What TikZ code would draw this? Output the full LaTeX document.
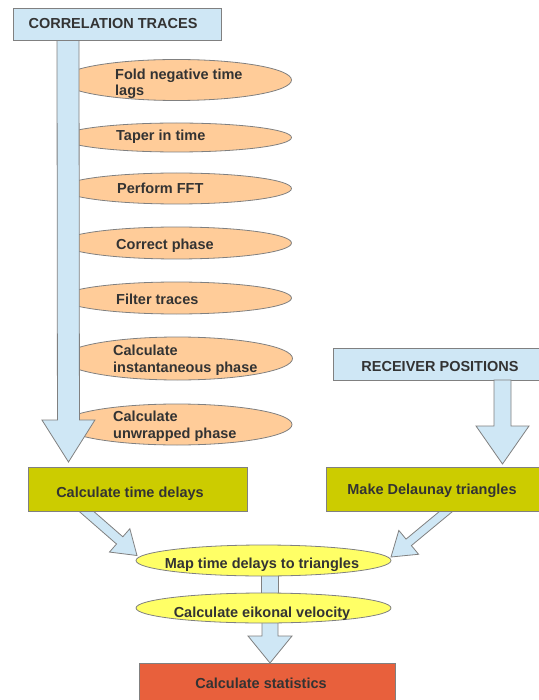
\documentclass[tikz,border=0pt]{standalone}
\usepackage{fontspec}
\setmainfont{Liberation Sans}
\usetikzlibrary{calc,shapes.geometric}
\definecolor{lblue}{RGB}{207,231,245}
\definecolor{peach}{RGB}{255,204,153}
\definecolor{boxolive}{RGB}{204,204,0}
\definecolor{lyellow}{RGB}{255,255,102}
\definecolor{statred}{RGB}{232,96,60}
\definecolor{edgegray}{RGB}{128,128,128}
\definecolor{txtgray}{RGB}{51,51,51}
\newcommand\blockarrow[5]{%
  \coordinate (bah) at ($(#2)!#5!(#1)$);
  \filldraw[arrowshape] ($(#1)!#3!90:(#2)$) -- ($(bah)!#3!90:(#2)$) -- ($(bah)!#4!90:(#2)$) -- (#2)
    -- ($(bah)!#4!-90:(#2)$) -- ($(bah)!#3!-90:(#2)$) -- ($(#1)!#3!-90:(#2)$) -- cycle;
}
\begin{document}
\begin{tikzpicture}[x=1pt,y=-1pt,
  font=\fontsize{14.5}{16.5}\selectfont\bfseries,
  arrowshape/.style={fill=lblue, draw=edgegray, line width=0.8pt, line join=miter},
  boxshape/.style={draw=edgegray, line width=0.8pt, rectangle, inner sep=0},
  peachell/.style={ellipse, draw=edgegray, line width=0.8pt, fill=peach, inner sep=0, minimum width=230},
  yellell/.style={ellipse, draw=edgegray, line width=0.8pt, fill=lyellow, inner sep=0, minimum width=255},
  lab/.style={text=txtgray, inner sep=0, anchor=base},
  llab/.style={text=txtgray, inner sep=0, anchor=base west, align=left}]
\useasboundingbox (0,0) rectangle (538,700);

% orange steps
\node[peachell, minimum height=41] (e1) at (176.5,80) {};
\node[peachell, minimum height=29] (e2) at (176.5,137.5) {};
\node[peachell, minimum height=31] (e3) at (176.5,188.5) {};
\node[peachell, minimum height=32] (e4) at (176.5,243) {};
\node[peachell, minimum height=32] (e5) at (176.5,298) {};
\node[peachell, minimum height=43] (e6) at (177.5,358.5) {};
\node[peachell, minimum height=41] (e7) at (177,424.5) {};
\node[llab] (t1) at (115,96) {Fold negative time\\lags};
\node[llab] (t2) at (116,141) {Taper in time};
\node[llab] (t3) at (117,193.5) {Perform FFT};
\node[llab] (t4) at (116,250) {Correct phase};
\node[llab] (t5) at (116,304) {Filter traces};
\node[llab] (t6) at (113,372) {Calculate\\instantaneous phase};
\node[llab] (t7) at (113,438) {Calculate\\unwrapped phase};

% big left arrow
\coordinate (a1s) at (68,40);
\coordinate (a1e) at (68.5,462);
\blockarrow{a1s}{a1e}{11pt}{26.5pt}{42pt}

% correlation traces box
\node[boxshape, fill=lblue, minimum width=208, minimum height=32] (ct) at (117,24) {};
\node[lab] (ctt) at (113,29) {CORRELATION TRACES};

% receiver positions
\node[boxshape, fill=lblue, minimum width=212, minimum height=32] (rp) at (439,364) {};
\node[lab] (rpt) at (440,371) {RECEIVER POSITIONS};
\coordinate (a2s) at (502.5,380);
\coordinate (a2e) at (502.5,464);
\blockarrow{a2s}{a2e}{8.5pt}{26.5pt}{38pt}

% diagonal arrows
\coordinate (a3s) at (80,505.8);
\coordinate (a3e) at (137,555.5);
\blockarrow{a3s}{a3e}{4.8pt}{15.5pt}{23pt}
\coordinate (a4s) at (452.7,505.9);
\coordinate (a4e) at (391,557);
\blockarrow{a4s}{a4e}{4.2pt}{15.5pt}{23pt}

% middle boxes
\node[boxshape, fill=boxolive, minimum width=219, minimum height=44] (ctd) at (137.5,489) {};
\node[lab] (ctdt) at (130,497) {Calculate time delays};
\node[boxshape, fill=boxolive, minimum width=219, minimum height=44] (mdt) at (435.5,489) {};
\node[lab] (mdtt) at (432,494) {Make Delaunay triangles};

% lower chain
\filldraw[arrowshape] (261.75,565) rectangle (278.25,600);
\coordinate (a5s) at (270,608);
\coordinate (a5e) at (270,663);
\blockarrow{a5s}{a5e}{8pt}{22pt}{27pt}
\node[yellell, minimum height=31] (map) at (263.5,560.5) {};
\node[lab] (mapt) at (262,568) {Map time delays to triangles};
\node[yellell, minimum height=30] (eik) at (263.5,608) {};
\node[lab] (eikt) at (262,617) {Calculate eikonal velocity};

% statistics
\node[boxshape, fill=statred, minimum width=256, minimum height=47] (stat) at (267,686.5) {};
\node[lab] (statt) at (261,688) {Calculate statistics};
\end{tikzpicture}
\end{document}
